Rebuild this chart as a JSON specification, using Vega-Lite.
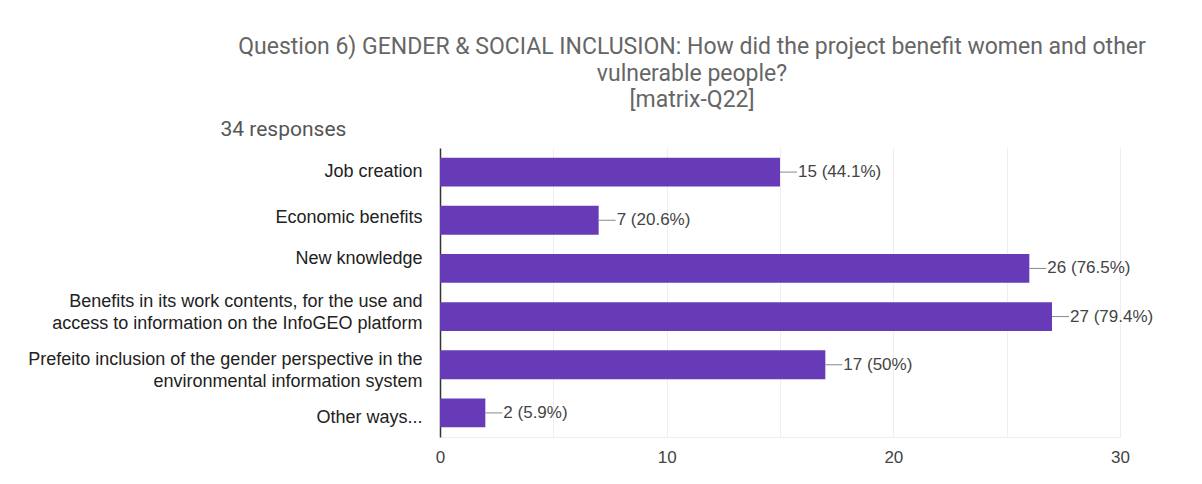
{
  "$schema": "https://vega.github.io/schema/vega-lite/v6.json",
  "width": 680,
  "height": 289,
  "autosize": {"type": "none"},
  "padding": {"left": 440, "top": 148, "right": 82, "bottom": 47},
  "background": "white",
  "title": {
    "text": ["Question 6) GENDER & SOCIAL INCLUSION: How did the project benefit women and other", "vulnerable people?", "[matrix-Q22]"],
    "anchor": "middle",
    "frame": "group",
    "dx": -88,
    "font": "Roboto",
    "fontSize": 23,
    "fontWeight": "normal",
    "color": "#666666",
    "lineHeight": 26.5,
    "offset": 6
  },
  "data": {
    "values": [
      {"option": "Job creation", "count": 15, "label": "15 (44.1%)"},
      {"option": "Economic benefits", "count": 7, "label": "7 (20.6%)"},
      {"option": "New knowledge", "count": 26, "label": "26 (76.5%)"},
      {"option": "Benefits in its work contents, for the use and|access to information on the InfoGEO platform", "count": 27, "label": "27 (79.4%)"},
      {"option": "Prefeito inclusion of the gender perspective in the|environmental information system", "count": 17, "label": "17 (50%)"},
      {"option": "Other ways...", "count": 2, "label": "2 (5.9%)"}
    ]
  },
  "encoding": {
    "y": {
      "field": "option",
      "type": "nominal",
      "sort": null,
      "scale": {"paddingInner": 0.4, "paddingOuter": 0.2},
      "axis": {
        "title": "34 responses",
        "titleAngle": 0,
        "titleX": -220,
        "titleY": -13,
        "titleAlign": "left",
        "titleBaseline": "alphabetic",
        "titleFont": "Roboto",
        "titleFontSize": 21,
        "titleFontWeight": "normal",
        "titleColor": "#555555",
        "labelExpr": "split(datum.label, '|')",
        "labelFont": "Liberation Sans",
        "labelFontSize": 18,
        "labelColor": "#222222",
        "labelLineHeight": 22,
        "labelOffset": {
          "condition": [
            {"test": "datum.value === 'Economic benefits'", "value": -2},
            {"test": "datum.value === 'New knowledge'", "value": -9},
            {"test": "indexof(datum.value, 'Benefits in') === 0", "value": -15},
            {"test": "indexof(datum.value, 'Prefeito') === 0", "value": -5},
            {"test": "datum.value === 'Other ways...'", "value": 5}
          ],
          "value": 0
        },
        "labelPadding": 18,
        "labelLimit": 500,
        "ticks": false,
        "domainColor": "#333333",
        "domainWidth": 1.5,
        "grid": false
      }
    }
  },
  "layer": [
    {
      "mark": {"type": "bar", "color": "#673ab7"},
      "encoding": {
        "x": {
          "field": "count",
          "type": "quantitative",
          "scale": {"domain": [0, 30], "nice": false},
          "axis": {
            "title": null,
            "values": [0, 5, 10, 15, 20, 25, 30],
            "labelExpr": "datum.value % 10 === 0 ? datum.label : ''",
            "labelFlush": false,
            "labelFont": "Liberation Sans",
            "labelFontSize": 17,
            "labelColor": "#444444",
            "labelPadding": 12,
            "ticks": false,
            "grid": true,
            "gridColor": "#eeeeee",
            "domainColor": "#eeeeee",
            "zindex": 0
          }
        }
      }
    },
    {
      "mark": {"type": "rule", "color": "#888888", "x2Offset": 17, "strokeWidth": 1},
      "encoding": {
        "x": {"field": "count", "type": "quantitative"},
        "x2": {"field": "count"}
      }
    },
    {
      "mark": {"type": "text", "align": "left", "baseline": "middle", "dx": 18, "font": "Liberation Sans", "fontSize": 17, "color": "#444444"},
      "encoding": {
        "x": {"field": "count", "type": "quantitative"},
        "text": {"field": "label"}
      }
    }
  ],
  "config": {
    "view": {"stroke": null}
  }
}
